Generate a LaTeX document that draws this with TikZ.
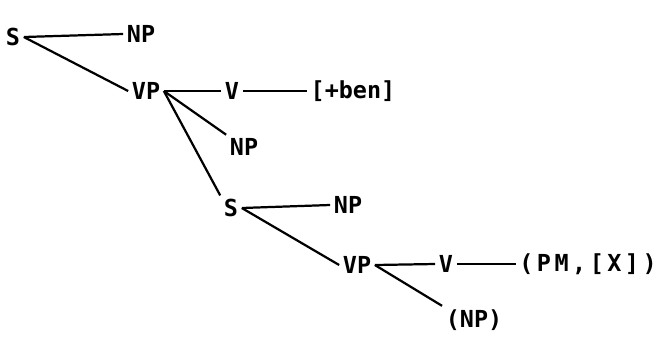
\documentclass[tikz,border=0pt]{standalone}
\usepackage{fontspec}
\setmainfont{DejaVu Sans Mono}
\usepackage{tikz}
\tikzset{lbl/.style={inner sep=3pt,font=\fontsize{20}{22}\selectfont\bfseries}}
\tikzset{br/.style={line width=1.9pt}}

\begin{document}
\begin{tikzpicture}[x=0.03cm,y=-0.03cm]
                    \useasboundingbox (0,0) rectangle (668,350);
                    \node[lbl] (s1) at (13,37) {S};
                    \node[lbl] (np1) at (141,34) {NP};
                    \node[lbl] (vp1) at (146,91) {VP};
                    \node[lbl] (v1) at (232,91) {V};
                    \node[lbl] (ben) at (353,91) {[+ben]};
                    \node[lbl] (np2) at (244,147) {NP};
                    \node[lbl] (s2) at (231,208) {S};
                    \node[lbl] (np3) at (348,205) {NP};
                    \node[lbl] (vp2) at (357,265) {VP};
                    \node[lbl] (v2) at (446,264) {V};
                    \node[lbl] (pm) at (588,264) {\addfontfeature{LetterSpace=15}(PM,[X])};
                    \node[lbl] (np4) at (474,320) {(NP)};

                    \draw[br] (s1.east) -- (np1.west);
                    \draw[br] (s1.east) -- (vp1.west);
                    \draw[br] (vp1.east) -- (v1.west);
                    \draw[br] (v1.east) -- (ben.west);
                    \draw[br] (vp1.east) -- (np2.north west);
                    \draw[br] (vp1.east) -- (s2.north west);
                    \draw[br] (s2.east) -- (np3.west);
                    \draw[br] (s2.east) -- (vp2.west);
                    \draw[br] (vp2.east) -- (v2.west);
                    \draw[br] (v2.east) -- (pm.west);
                    \draw[br] (vp2.east) -- (np4.north west);
                \end{tikzpicture}
\end{document}
